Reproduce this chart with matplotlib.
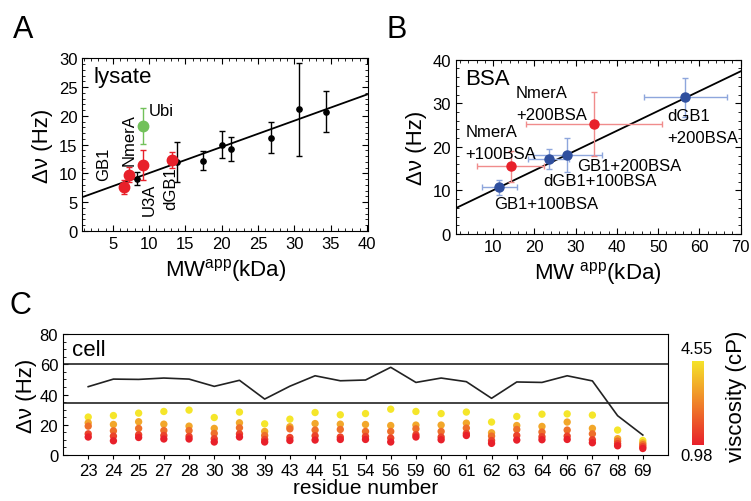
import numpy as np
import matplotlib
matplotlib.use("Agg")
import matplotlib.pyplot as plt
from matplotlib.colors import LinearSegmentedColormap, Normalize
from matplotlib.ticker import MultipleLocator

plt.rcParams['font.family'] = ['Liberation Sans', 'DejaVu Sans']
plt.rcParams['mathtext.fontset'] = 'custom'
plt.rcParams['mathtext.rm'] = 'Liberation Sans'
plt.rcParams['mathtext.it'] = 'Liberation Sans'

# panel A : lysate
lys_mw = [8.3, 13.8, 17.4, 20.0, 21.3, 26.8, 30.7, 34.4]
lys_dv = [9.1, 12.0, 12.2, 15.0, 14.3, 16.2, 21.1, 20.7]
lys_err = [1.2, 3.5, 1.7, 2.4, 2.1, 2.7, 8.0, 3.6]
red_names = ["GB1", "NmerA", "U3A", "dGB1"]
red_mw = [6.5, 7.2, 9.2, 13.1]
red_dv = [7.6, 9.8, 11.4, 12.35]
red_err = [1.2, 1.3, 2.6, 1.4]
ubi_mw = [9.2]
ubi_dv = [18.2]
ubi_err = [3.1]

# panel B : BSA
bsa_blue_mw = [11.5, 23.4, 28.0, 56.6]
bsa_blue_dv = [10.7, 17.1, 18.2, 31.4]
bsa_blue_xerr = [4.2, 4.9, 8.4, 10.0]
bsa_blue_yerr = [1.8, 2.3, 3.9, 4.5]
bsa_red_mw = [14.2, 34.5]
bsa_red_dv = [15.5, 25.2]
bsa_red_xerr = [8.1, 16.5]
bsa_red_yerr = [3.6, 7.3]

fit_slope = 0.455
fit_icpt = 5.5

# panel C : cell
residues = ["23", "24", "25", "27", "28", "30", "38", "39", "43", "44", "51", "54",
            "56", "59", "60", "61", "62", "63", "64", "66", "67", "68", "69"]
cell_dv = [45.2, 50.2, 50.0, 50.9, 50.2, 45.4, 49.4, 37.0, 45.5, 52.4, 49.1, 49.6,
           58.0, 48.0, 50.9, 48.5, 37.5, 48.3, 48.0, 52.4, 49.0, 26.0, 13.2]
viscosity = [4.55, 3.4, 2.4, 1.6, 0.98]
visc_dv = [
    [25.1, 26.1, 27.7, 28.8, 29.7, 24.8, 28.4, 20.6, 23.7, 28.1, 26.6, 27.4,
     30.3, 28.8, 27.4, 28.4, 21.8, 25.5, 27.0, 27.2, 26.4, 16.5, 9.6],
    [21.3, 20.2, 22.0, 20.4, 19.1, 17.6, 21.3, 15.6, 18.7, 20.8, 20.4, 20.2,
     19.5, 19.8, 19.8, 21.1, 14.7, 19.5, 18.9, 21.8, 17.6, 10.8, 8.0],
    [19.1, 16.0, 17.6, 16.2, 16.2, 14.3, 18.0, 12.9, 17.3, 16.5, 16.9, 15.6,
     15.6, 17.3, 15.6, 17.8, 12.5, 16.9, 15.2, 16.5, 14.0, 9.2, 6.8],
    [14.0, 12.5, 13.4, 12.9, 12.3, 10.8, 14.0, 10.3, 11.6, 12.7, 11.9, 12.3,
     11.2, 13.4, 11.9, 14.3, 9.6, 12.9, 12.1, 12.5, 10.1, 7.5, 5.5],
    [11.9, 9.4, 11.6, 10.6, 10.6, 8.6, 11.9, 8.6, 9.6, 9.9, 10.3, 10.3,
     8.6, 11.9, 10.1, 12.9, 7.7, 9.9, 10.1, 10.3, 8.1, 6.1, 4.3],
]

fig = plt.figure(figsize=(7.51, 5.02), dpi=100)

def box_ticks(ax):
    ax.tick_params(which='both', direction='in', top=True, right=True, labelsize=12)
    ax.tick_params(which='major', length=4)
    ax.tick_params(which='minor', length=2)

# ---- A
axA = fig.add_axes([0.1096, 0.538, 0.381, 0.344])
xx = np.array([1, 40])
axA.plot(xx, fit_icpt + fit_slope * xx, color='black', lw=1.3, zorder=2)
axA.errorbar(lys_mw, lys_dv, yerr=lys_err, fmt='o', color='black', ms=3.8,
             capsize=2.5, elinewidth=1, zorder=3)
axA.errorbar(red_mw, red_dv, yerr=red_err, fmt='o', color='#e8202a', ms=7.5,
             capsize=2.5, elinewidth=1, zorder=4)
axA.errorbar(ubi_mw, ubi_dv, yerr=ubi_err, fmt='o', color='#72c15a', ms=7.5,
             capsize=2.5, elinewidth=1, zorder=4)
axA.set_xlim(0.8, 40.2)
axA.set_ylim(0, 30)
axA.xaxis.set_major_locator(MultipleLocator(5))
axA.xaxis.set_minor_locator(MultipleLocator(1))
axA.yaxis.set_major_locator(MultipleLocator(5))
axA.yaxis.set_minor_locator(MultipleLocator(1))
box_ticks(axA)
axA.text(2.3, 26.9, "lysate", fontsize=16, va='center')
axA.text(9.9, 21.0, "Ubi", fontsize=12, va='center')
axA.text(3.7, 8.9, "GB1", fontsize=12, rotation=90, ha='center', va='bottom')
axA.text(7.2, 11.4, "NmerA", fontsize=12, rotation=90, ha='center', va='bottom')
axA.text(10.0, 8.4, "U3A", fontsize=12, rotation=90, ha='center', va='top')
axA.text(13.0, 11.2, "dGB1", fontsize=12, rotation=90, ha='center', va='top')
axA.set_xlabel("MW$^{\\mathrm{app}}$(kDa)", fontsize=16, labelpad=4)
axA.set_ylabel("Δν (Hz)", fontsize=16, labelpad=4)
fig.text(0.017, 0.925, "A", fontsize=22)

# ---- B
axB = fig.add_axes([0.6068, 0.532, 0.3795, 0.347])
xx = np.array([0.9, 70])
axB.plot(xx, fit_icpt + fit_slope * xx, color='black', lw=1.3, zorder=2)
axB.errorbar(bsa_blue_mw, bsa_blue_dv, xerr=bsa_blue_xerr, yerr=bsa_blue_yerr,
             fmt='none', ecolor='#8ea6dc', capsize=2.5, elinewidth=1, zorder=3)
axB.plot(bsa_blue_mw, bsa_blue_dv, 'o', color='#2f4f9e', ms=6.5, zorder=4)
axB.errorbar(bsa_red_mw, bsa_red_dv, xerr=bsa_red_xerr, yerr=bsa_red_yerr,
             fmt='none', ecolor='#f08c8c', capsize=2.5, elinewidth=1, zorder=3)
axB.plot(bsa_red_mw, bsa_red_dv, 'o', color='#e8202a', ms=6.5, zorder=4)
axB.set_xlim(0.9, 70)
axB.set_ylim(0, 40)
axB.xaxis.set_major_locator(MultipleLocator(10))
axB.xaxis.set_minor_locator(MultipleLocator(2))
axB.yaxis.set_major_locator(MultipleLocator(10))
axB.yaxis.set_minor_locator(MultipleLocator(2))
box_ticks(axB)
axB.text(3.2, 35.6, "BSA", fontsize=16, va='center')
axB.text(15.5, 34.3, "NmerA\n+200BSA", fontsize=12, va='top', linespacing=1.6)
axB.text(3.2, 25.2, "NmerA\n+100BSA", fontsize=12, va='top', linespacing=1.6)
axB.text(30.3, 15.7, "GB1+200BSA", fontsize=12, va='center')
axB.text(22.2, 12.3, "dGB1+100BSA", fontsize=12, va='center')
axB.text(10.1, 7.0, "GB1+100BSA", fontsize=12, va='center')
axB.text(52.2, 29.0, "dGB1\n+200BSA", fontsize=12, va='top', linespacing=1.6)
axB.set_xlabel("MW $^{\\mathrm{app}}$(kDa)", fontsize=16, labelpad=4)
axB.set_ylabel("Δν (Hz)", fontsize=16, labelpad=4)
fig.text(0.515, 0.925, "B", fontsize=22)

# ---- C
cmap = LinearSegmentedColormap.from_list("visc", ["#e8202a", "#f0842a", "#f5e62a"])
norm = Normalize(vmin=0.98, vmax=4.55)
axC = fig.add_axes([0.0839, 0.0916, 0.8056, 0.241])
idx = np.arange(len(residues))
for v, vals in zip(viscosity, visc_dv):
    axC.scatter(idx, vals, s=28, color=cmap(norm(v)), edgecolors='none', zorder=3)
axC.plot(idx, cell_dv, color='#222222', lw=1.2, zorder=2)
axC.axhline(60, color='#222222', lw=1.2)
axC.axhline(34.5, color='#222222', lw=1.2)
axC.set_xlim(-1, len(residues))
axC.set_ylim(0, 80)
axC.set_xticks(idx)
axC.set_xticklabels(residues)
axC.yaxis.set_major_locator(MultipleLocator(20))
axC.yaxis.set_minor_locator(MultipleLocator(5))
axC.tick_params(axis='y', which='both', direction='in', labelsize=12)
axC.tick_params(axis='y', which='minor', length=2)
axC.tick_params(axis='x', direction='out', length=3, labelsize=12, pad=3)
axC.text(-0.65, 69.7, "cell", fontsize=16, va='center')
axC.set_xlabel("residue number", fontsize=15, labelpad=0)
axC.set_ylabel("Δν (Hz)", fontsize=16, labelpad=2)
fig.text(0.012, 0.375, "C", fontsize=22)

# colorbar
cax = fig.add_axes([0.921, 0.1116, 0.015, 0.168])
grad = np.linspace(0, 1, 256).reshape(-1, 1)
cax.imshow(grad, aspect='auto', cmap=cmap, origin='lower', extent=[0, 1, 0.98, 4.55])
cax.set_xticks([])
cax.set_yticks([])
for s in cax.spines.values():
    s.set_visible(False)
fig.text(0.928, 0.303, "4.55", fontsize=12, ha='center', va='center')
fig.text(0.928, 0.09, "0.98", fontsize=12, ha='center', va='center')
fig.text(0.981, 0.21, "viscosity (cP)", fontsize=16, rotation=90, ha='center', va='center')

fig.savefig("out.png", dpi=100)
